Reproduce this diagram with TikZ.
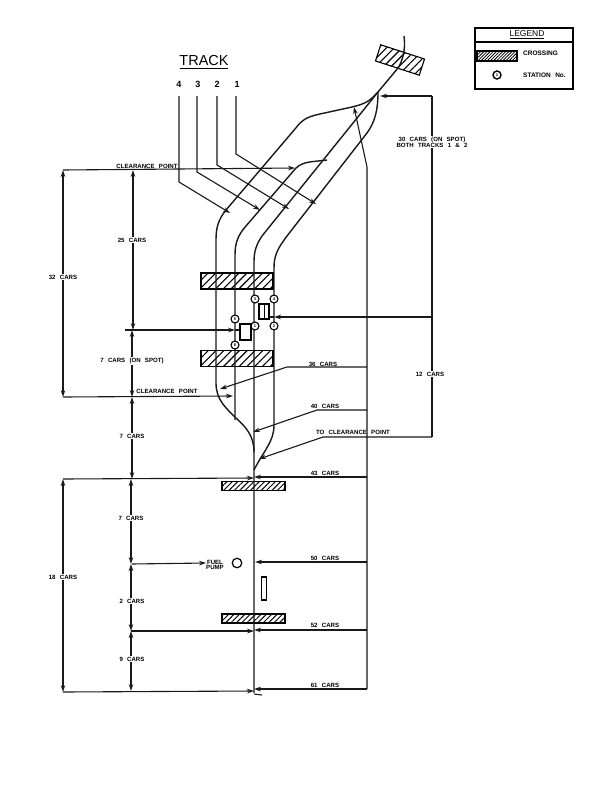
\documentclass[tikz,border=0pt]{standalone}
\usepackage{fontspec}
\setmainfont{Liberation Sans}
\newfontfamily\labf[WordSpace=2.5]{Liberation Sans}
\usetikzlibrary{arrows.meta,patterns.meta,calc}
\tikzset{
  x=1pt,y=-1pt,
  track/.style={line width=1.4pt,black!90},
  dim/.style={line width=1.1pt,black!90},
  arr/.style={dim,-{Stealth[length=7pt,width=4.6pt]}},
  arrs/.style={dim,{Stealth[length=7pt,width=4.6pt]}-{Stealth[length=7pt,width=4.6pt]}},
  lab/.style={font=\labf\bfseries\fontsize{6.1}{6.7}\selectfont,inner sep=1pt,align=center},
  wlab/.style={lab,fill=white},
  crossing/.style={draw,line width=1.1pt,inner sep=0pt,pattern={Lines[angle=45,distance=5.5pt,line width=1.1pt]}},
  crossingfine/.style={crossing,pattern={Lines[angle=45,distance=3.8pt,line width=1pt]}},
  station/.style={circle,draw,line width=1.1pt,fill=white,minimum size=8pt,inner sep=0pt,font=\bfseries\fontsize{4}{4}\selectfont},
  box/.style={draw,line width=1.1pt,fill=white,inner sep=0pt},
  numlab/.style={font=\bfseries\fontsize{9}{10}\selectfont,inner sep=0pt},
}
\begin{document}
\begin{tikzpicture}
\useasboundingbox (0,0) rectangle (611,800);
\fill[white] (0,0) rectangle (611,800);
% key coordinates
\coordinate (conv) at (378,92);
\coordinate (trackend) at (254,693);
\coordinate (top) at (404,36);
% crossings
\node[crossing,minimum width=72pt,minimum height=16pt] (c1) at (237,281) {};
\node[crossing,minimum width=72pt,minimum height=16pt] (c2) at (237,358.5) {};
\node[crossingfine,minimum width=63pt,minimum height=9pt] (c3) at (253.5,486) {};
\node[crossingfine,minimum width=63pt,minimum height=9pt] (c4) at (253.5,618.5) {};
\node[crossing,minimum width=46pt,minimum height=17pt,rotate=-18] (c0) at (400,60) {};
% tracks
\draw[track] (top) .. controls (406,50) and (402,62) .. (398,68) -- (conv);
\draw[track] (conv) .. controls (370,101) and (365,104) .. (352,107) -- (320,114)
  .. controls (306,117) and (302,120) .. (295,129) -- (226,210)
  .. controls (218,220) and (216,228) .. (216,240) -- (216,383)
  .. controls (216,400) and (226,408) .. (236,418) .. controls (246,427) and (254,436) .. (254,452);
\draw[track] (327,160) .. controls (312,162) and (304,161) .. (296,168) -- (246,226)
  .. controls (238,235) and (235,243) .. (235,255) -- (235,420);
\draw[track] (conv) -- (262,236) .. controls (256,245) and (254,252) .. (254,262) -- (trackend);
\draw[track] (conv) .. controls (378,110) and (375,122) .. (367,133) -- (287,236)
  .. controls (278,248) and (274,255) .. (274,268) -- (274,425)
  .. controls (274,442) and (264,450) .. (254,470);
% right vertical
\draw[arr] (367,689) -- (367,167) -- (354,107);
% stations & boxes
\node[station] (s3) at (255,299) {3};
\node[station] (s4) at (274,299) {4};
\node[station] (s5) at (235,319) {5};
\node[station] (s1) at (255,326) {1};
\node[station] (s2) at (274,326) {2};
\node[station] (s6) at (235,345) {6};
\node[box,minimum width=10pt,minimum height=15pt] (b1) at (264,311.5) {};
\draw[line width=1pt] (b1.north) -- (b1.south);
\node[box,minimum width=11pt,minimum height=16pt] (b2) at (245.5,332) {};
\node[box,minimum width=5pt,minimum height=23pt] (b3) at (264,588.5) {};
\node[circle,draw,line width=1.2pt,minimum size=9.5pt,inner sep=0pt] (pump) at (237,563) {};
% track header
\node[font=\fontsize{14.5}{16}\selectfont,inner sep=0pt] (track) at (204,61) {TRACK};
\draw[line width=1pt] (180,68.5) -- (228,68.5);
\node[numlab] (t4) at (179,84) {4};
\node[numlab] (t3) at (198,84) {3};
\node[numlab] (t2) at (217,84) {2};
\node[numlab] (t1) at (237,84) {1};
\coordinate (a4) at (230,213);
\coordinate (a3) at (260,210);
\coordinate (a2) at (289,209);
\coordinate (a1) at (316,204);
\draw[arr] (179,96) -- (179,182) -- (a4);
\draw[arr] (197,96) -- (197,172) -- (a3);
\draw[arr] (217,96) -- (217,165) -- (a2);
\draw[arr] (236,96) -- (236,154) -- (a1);
% left dimension lines
\coordinate (cp1) at (295,168);
\draw[arr] (63,170) -- (cp1);
\coordinate (y397) at (63,397);
\coordinate (cp2) at (233,396);
\draw[arr] (y397) -- (cp2);
\draw[arrs] (63,170) -- (y397);
\draw[arrs] (133,170) -- (133,330);
\coordinate (st5) at (235,330);
\draw[arr] (125,330) -- (st5);
\draw[dim] (st5) -- (b2.west |- st5);
\draw[arrs] (132,330) -- (132,397);
\draw[arrs] (132,397) -- (132,479);
\draw[arr] (63,479) -- (254,478);
\draw[arrs] (63,479) -- (63,692);
\draw[arrs] (131,479) -- (131,564);
\draw[arrs] (131,564) -- (131,631);
\draw[arrs] (131,631) -- (131,691);
\draw[arr] (132,564) -- (206,563);
\draw[arr] (131,631) -- (254,631);
\draw[arr] (63,692) -- (254,691);
% right dimension lines
\coordinate (tc) at (259,459);
\draw[arr] (432,437) -- (323,437) -- (tc);
\draw[dim] (432,437) -- (432,96);
\draw[arr] (432,96) -- (380,96);
\coordinate (st4) at (274,317);
\draw[arr] (432,317) -- (st4);
\draw[dim] (st4) -- (b1.east |- st4);
\draw[arr] (367,367) -- (287,367) -- (220,389);
\draw[arr] (367,410) -- (317,410) -- (253,432);
\draw[arr] (367,477) -- (254,477);
\draw[arr] (367,562) -- (255,562);
\draw[arr] (367,630) -- (254,630);
\draw[arr] (367,689) -- (254,689);
\draw[dim] (254,694) -- (262,695);
% labels
\node[wlab] (l1) at (432,142) {30 CARS (ON SPOT)\\[-0.5pt]BOTH TRACKS 1 \& 2};
\node[wlab] (l2) at (430,374) {12 CARS};
\node[wlab] (l3) at (132,240) {25 CARS};
\node[wlab] (l4) at (63,277) {32 CARS};
\node[wlab] (l5) at (132,361) {7 CARS (ON SPOT)};
\node[wlab] (l6) at (132,436) {7 CARS};
\node[wlab] (l7) at (131,518) {7 CARS};
\node[wlab] (l8) at (63,577) {18 CARS};
\node[wlab] (l9) at (132,601) {2 CARS};
\node[wlab] (l10) at (132,659) {9 CARS};
\node[lab] (l11) at (147,166) {CLEARANCE POINT};
\node[lab] (l12) at (167,391) {CLEARANCE POINT};
\node[lab] (l13) at (323,364) {36 CARS};
\node[lab] (l14) at (325,406) {40 CARS};
\node[lab] (l15) at (353,432) {TO CLEARANCE POINT};
\node[lab] (l16) at (325,473) {43 CARS};
\node[lab] (l17) at (325,558) {50 CARS};
\node[lab] (l18) at (325,625) {52 CARS};
\node[lab] (l19) at (325,685) {61 CARS};
\node[lab] (l20) at (215,565) {FUEL\\[-1pt]PUMP};
% legend
\node[draw,line width=1.1pt,minimum width=98pt,minimum height=61pt,inner sep=0pt] (legend) at (524,58.5) {};
\draw[line width=1.1pt] (475,42) -- (573,42);
\node[font=\fontsize{8.5}{9}\selectfont,inner sep=1pt] (lt) at (527,35) {\underline{LEGEND}};
\node[crossing,minimum width=40pt,minimum height=10pt,pattern={Lines[angle=45,distance=2.2pt,line width=.8pt]}] (lc) at (497,56) {};
\node[lab,anchor=west,font=\labf\bfseries\fontsize{6.5}{7}\selectfont] (lc2) at (522,53.5) {CROSSING};
\node[station,minimum size=8pt,line width=1.4pt] (ls) at (497,75) {1};
\node[lab,anchor=west,font=\labf\bfseries\fontsize{6.5}{7}\selectfont] (ls2) at (522,75.5) {STATION No.};
\end{tikzpicture}
\end{document}
